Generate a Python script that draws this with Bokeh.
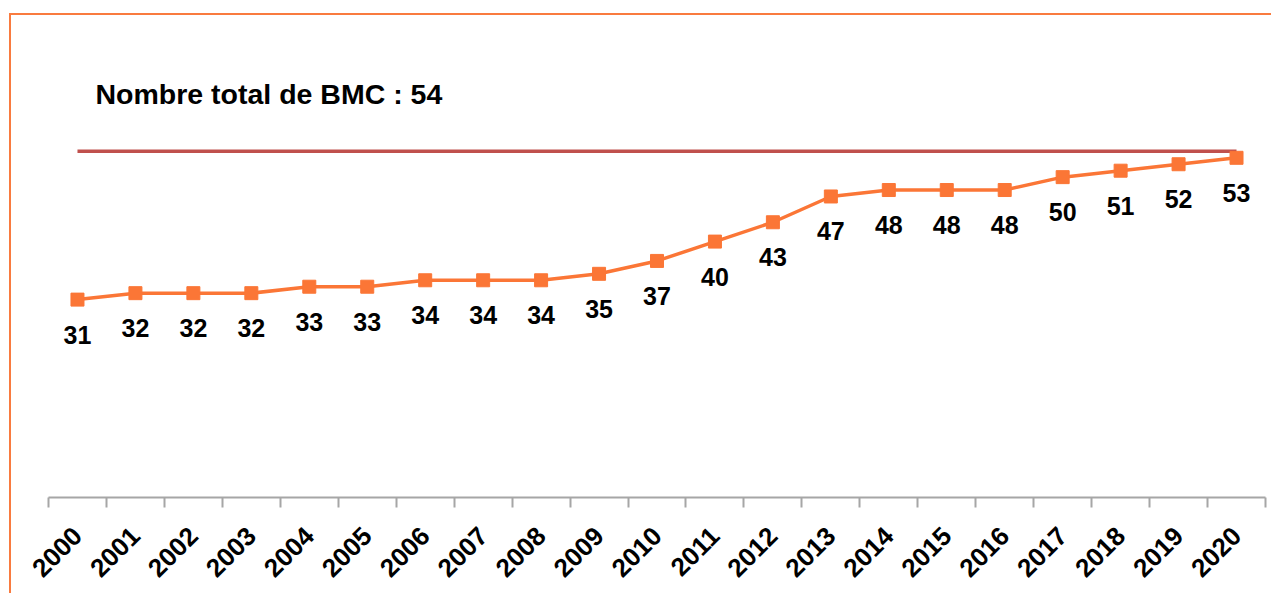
import math
from bokeh.plotting import figure
from bokeh.models import ColumnDataSource, FixedTicker, Range1d, Label
from bokeh.core.properties import value
from bokeh.embed import file_html
from bokeh.resources import INLINE

years = list(range(2000, 2021))
counts = [31, 32, 32, 32, 33, 33, 34, 34, 34, 35, 37, 40, 43, 47, 48, 48, 48, 50, 51, 52, 53]
total = 54
title_text = "Nombre total de BMC : 54"

FONT = "Liberation Sans"
ORANGE = "#FB7636"
RED = "#C0504D"
GRAY = "#A6A6A6"

p = figure(width=1262, height=580, output_backend="svg", toolbar_location=None,
           x_range=Range1d(years[0] - 0.5, years[-1] + 0.5), y_range=Range1d(0.3, 74.3),
           min_border_left=37, min_border_right=8, min_border_top=5, min_border_bottom=98)
p.styles = {"border-top": "2px solid #F97B3F", "border-left": "2px solid #F97B3F",
            "margin-top": "13px", "margin-left": "9px"}

p.outline_line_color = None
p.xgrid.visible = False
p.ygrid.visible = False
p.yaxis.visible = False
p.background_fill_color = "white"
p.border_fill_color = "white"

ax = p.xaxis[0]
ax.ticker = FixedTicker(ticks=years, minor_ticks=[y - 0.5 for y in years] + [years[-1] + 0.5])
ax.axis_line_color = GRAY
ax.axis_line_width = 2
ax.major_tick_line_color = None
ax.major_tick_out = 10
ax.minor_tick_line_color = GRAY
ax.minor_tick_line_width = 2
ax.minor_tick_in = 0
ax.minor_tick_out = 10
ax.major_label_orientation = math.pi / 4
ax.major_label_text_font = FONT
ax.major_label_text_font_style = "bold"
ax.major_label_text_font_size = "26px"
ax.major_label_text_color = "black"
ax.major_label_standoff = 24

src = ColumnDataSource(data=dict(x=years, y=counts, lab=[str(c) for c in counts]))

p.line(x=[years[0], years[-1]], y=[total, total], line_color=RED, line_width=3.5)
p.line(x="x", y="y", source=src, line_color=ORANGE, line_width=3.5)
p.scatter(x="x", y="y", source=src, marker="square", size=13, fill_color=ORANGE, line_color=ORANGE)
p.text(x="x", y="y", text="lab", source=src, text_font=value(FONT), text_font_style="bold",
       text_font_size="25px", text_align="center", text_baseline="middle", y_offset=35,
       text_color="black")

p.add_layout(Label(x=years[0], y=total, x_offset=18, y_offset=57, text=title_text,
                   text_font=FONT, text_font_style="bold", text_font_size="28.5px",
                   text_color="black", text_baseline="alphabetic"))

open("out.html", "w").write(file_html(p, INLINE))
